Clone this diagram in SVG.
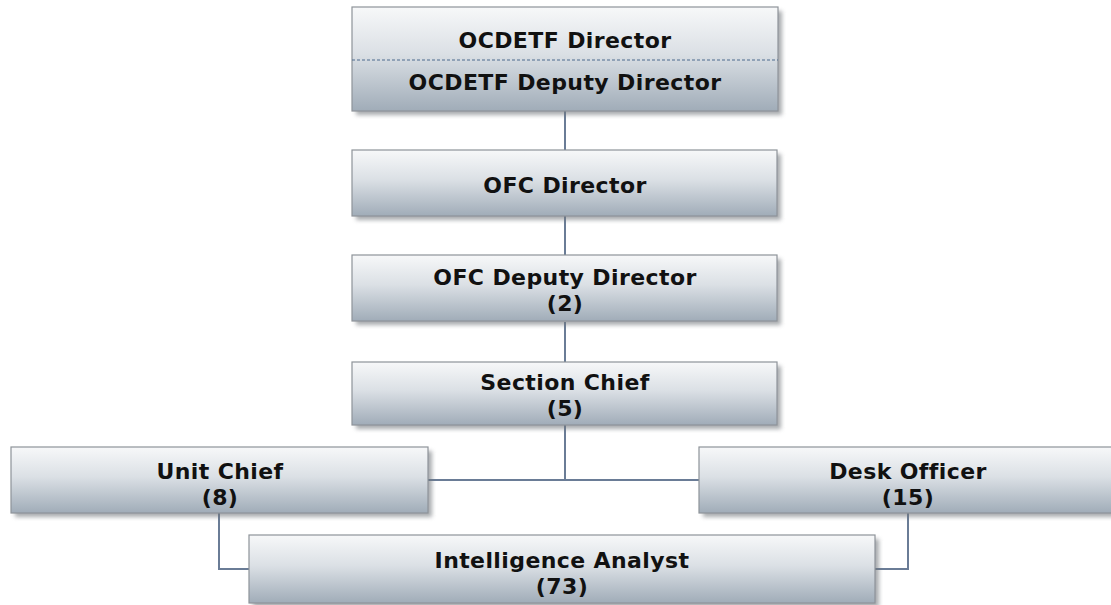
<svg xmlns="http://www.w3.org/2000/svg" width="1111" height="605" viewBox="0 0 1111 605">
<style>
.box{fill:url(#g);stroke:#8e9399;stroke-width:1.2}
.sh{fill:#6f7479;opacity:0.6;filter:url(#blur)}
.t{font-family:"DejaVu Sans",Verdana,sans-serif;font-weight:bold;font-size:22px;letter-spacing:0.4px;fill:#111;text-anchor:middle}
.c{fill:none;stroke:#6a7c96;stroke-width:2}
</style>
<defs>
<linearGradient id="g" x1="0" y1="0" x2="0" y2="1">
<stop offset="0" stop-color="#f7f8f9"/>
<stop offset="0.45" stop-color="#dbe0e5"/>
<stop offset="1" stop-color="#a0acb8"/>
</linearGradient>
<filter id="blur" x="-5%" y="-20%" width="110%" height="140%"><feGaussianBlur stdDeviation="2"/></filter>
</defs>
<rect width="1111" height="605" fill="#fff"/>
<g id="connectors">
<path class="c" d="M565 111V150M565 216V255M565 322V362M565 425V480M428 480H699M219 513V569H249M908 513V569H875"/>
</g>
<g id="n-ocdetf">
<rect class="sh" x="356" y="11" width="426" height="104"/>
<rect class="box" x="352" y="7" width="426" height="104"/>
<line x1="352" y1="60" x2="778" y2="60" stroke="#4d6a8e" stroke-width="1.2" stroke-dasharray="3,2"/>
<text class="t" x="565" y="48">OCDETF Director</text>
<text class="t" x="565" y="90">OCDETF Deputy Director</text>
</g>
<g id="n-ofc-director">
<rect class="sh" x="356" y="154" width="425" height="66"/>
<rect class="box" x="352" y="150" width="425" height="66"/>
<text class="t" x="565" y="193">OFC Director</text>
</g>
<g id="n-ofc-deputy">
<rect class="sh" x="356" y="259" width="425" height="66"/>
<rect class="box" x="352" y="255" width="425" height="66"/>
<text class="t" x="565" y="285">OFC Deputy Director</text>
<text class="t" x="565" y="311">(2)</text>
</g>
<g id="n-section-chief">
<rect class="sh" x="356" y="366" width="425" height="63"/>
<rect class="box" x="352" y="362" width="425" height="63"/>
<text class="t" x="565" y="390">Section Chief</text>
<text class="t" x="565" y="416">(5)</text>
</g>
<g id="n-unit-chief">
<rect class="sh" x="15" y="451" width="417" height="66"/>
<rect class="box" x="11" y="447" width="417" height="66"/>
<text class="t" x="220" y="479">Unit Chief</text>
<text class="t" x="220" y="505">(8)</text>
</g>
<g id="n-desk-officer">
<rect class="sh" x="703" y="451" width="412" height="66"/>
<rect class="box" x="699" y="447" width="416" height="66"/>
<text class="t" x="908" y="479">Desk Officer</text>
<text class="t" x="908" y="505">(15)</text>
</g>
<g id="n-analyst">
<rect class="sh" x="253" y="539" width="626" height="68"/>
<rect class="box" x="249" y="535" width="626" height="68"/>
<text class="t" x="562" y="568">Intelligence Analyst</text>
<text class="t" x="562" y="594">(73)</text>
</g>
</svg>
